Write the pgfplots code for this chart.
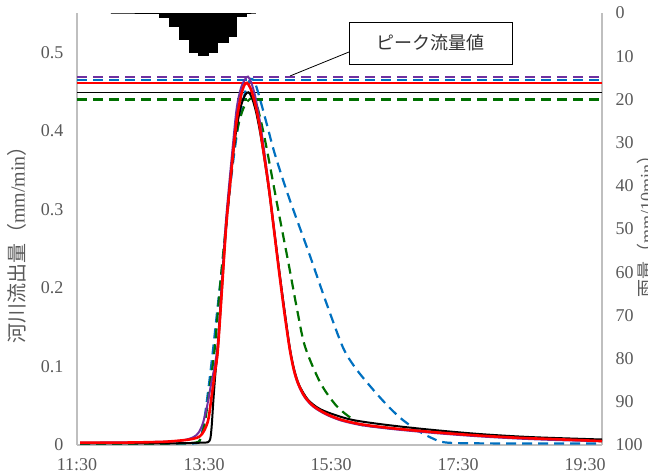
\documentclass[border=0pt]{standalone}
\usepackage{pgfplots}
\pgfplotsset{compat=1.18}
\usepackage{fontspec}
\setmainfont{Liberation Serif}
\newfontfamily\jp{Noto Sans CJK JP}
\definecolor{axgray}{RGB}{191,191,191}
\definecolor{txtgray}{RGB}{89,89,89}
\definecolor{mblue}{RGB}{0,112,192}
\definecolor{mgreen}{RGB}{0,112,0}
\definecolor{mpurple}{RGB}{112,48,160}
\pgfplotsset{
  base/.style={
    at={(77pt,27pt)}, anchor=south west,
    scale only axis, width=525pt, height=432pt,
    xmin=0, xmax=496,
    axis line style={axgray, line width=1.2pt, -},
    major tick length=0pt,
    tick label style={txtgray, font=\fontsize{18}{20}\selectfont},
    /pgf/number format/assume math mode=true,
    clip=false,
  },
  pk/.style={line width=1.6pt},
  dsh/.style={line width=2.2pt, dash pattern=on 10pt off 6pt},
}
\begin{document}
\begin{tikzpicture}[x=1pt,y=1pt]
% rainfall, secondary axis (reversed)
\begin{axis}[base,
  axis y line*=right, axis x line=none,
  ymin=0, ymax=100, y dir=reverse,
  ytick={0,10,...,100},
  yticklabel style={anchor=west, xshift=10pt},
]
\addplot[const plot, fill=black, draw=black, line width=0.8pt] coordinates {
  (32,0) (78,1.0) (87,3.2) (96.5,6.1) (106,9.2) (114.5,9.7) (124,9.2)
  (133,6.9) (143,5.4) (151,0.9) (160,0) (169,0)
} \closedcycle;
\end{axis}
% river discharge
\begin{axis}[base,
  axis x line*=bottom, axis y line*=left,
  ymin=0, ymax=0.55,
  ytick={0,0.1,...,0.5},
  yticklabel style={anchor=east, xshift=-10pt},
  xtick={0,120,240,360,480},
  xticklabels={11:30,13:30,15:30,17:30,19:30},
  xticklabel style={yshift=-10pt},
]
% peak lines
\addplot[mpurple, dsh] coordinates {(0,0.469) (496,0.469)};
\addplot[mblue, dsh] coordinates {(0,0.465) (496,0.465)};
\addplot[red, pk] coordinates {(0,0.461) (496,0.461)};
\addplot[black, pk] coordinates {(0,0.449) (496,0.449)};
\addplot[mgreen, dsh] coordinates {(0,0.440) (496,0.440)};
% blue dashed
\addplot[mblue, dsh, smooth] coordinates {
  (3,0.002) (80,0.002) (110,0.002) (116,0.006) (120,0.03) (124,0.07)
  (128.5,0.121) (134,0.19) (139,0.25) (144,0.32) (149,0.376) (154,0.42)
  (159,0.45) (163,0.464) (165.6,0.466) (169,0.458) (174,0.435) (180,0.405)
  (187,0.37) (200,0.316) (219,0.245) (235,0.183) (251,0.125) (262,0.1)
  (275,0.078) (290,0.055) (305,0.035) (320,0.02) (335,0.009) (350,0.003)
  (400,0.002) (496,0.002)
};
% green dashed
\addplot[mgreen, dsh, smooth] coordinates {
  (3,0.002) (80,0.002) (112,0.003) (117,0.01) (121,0.03) (125,0.07)
  (130,0.121) (135,0.2) (140,0.27) (147.5,0.37) (152,0.405) (157,0.428)
  (162,0.439) (166,0.441) (170,0.432) (175,0.405) (180,0.372) (190,0.3)
  (200,0.23) (208,0.172) (215.5,0.125) (230,0.079) (245,0.05) (258,0.035)
  (267,0.026) (300,0.021) (340,0.016) (380,0.012) (420,0.009) (460,0.007)
  (496,0.005)
};
% purple
\addplot[mpurple, line width=2pt, smooth] coordinates {
  (3,0.003) (80,0.004) (100,0.006) (110,0.01) (115,0.016) (119,0.028)
  (123,0.05) (127,0.08) (130,0.1) (133,0.13) (137,0.21) (141,0.29)
  (147.5,0.385) (151,0.43) (155,0.455) (159,0.466) (161.5,0.469) (164.5,0.462)
  (168.5,0.443) (172.5,0.414) (176.5,0.378) (181,0.332) (186,0.277)
  (191,0.222) (196,0.17) (201,0.123) (205,0.095) (209,0.077) (215,0.061)
  (223,0.049) (235,0.039) (250,0.031) (270,0.025) (300,0.02) (340,0.015)
  (380,0.011) (420,0.008) (460,0.006) (496,0.005)
};
% black observed
\addplot[black, line width=2pt, smooth] coordinates {
  (3,0.002) (80,0.002) (118,0.003) (125,0.005) (127,0.02) (129,0.06)
  (131,0.095) (133,0.121) (137,0.2) (141,0.28) (147.5,0.37) (151,0.405)
  (155,0.432) (159,0.446) (162,0.449) (165,0.443) (169,0.425) (173,0.398)
  (177,0.365) (182,0.318) (187,0.265) (192,0.212) (197,0.162) (201,0.124)
  (205,0.097) (210,0.076) (218,0.058) (228,0.047) (240,0.04) (260,0.032)
  (290,0.026) (330,0.02) (380,0.014) (430,0.01) (496,0.007)
};
% red
\addplot[red, line width=2.6pt, smooth] coordinates {
  (3,0.003) (40,0.003) (80,0.004) (100,0.006) (110,0.008) (116,0.011)
  (120,0.018) (124,0.032) (127,0.06) (130,0.09) (133,0.121) (137,0.2)
  (141,0.28) (144.5,0.33) (147.5,0.372) (151,0.415) (155,0.445) (158,0.458)
  (160.5,0.461) (164,0.454) (168,0.436) (172,0.41) (176,0.375) (181,0.33)
  (186,0.275) (191,0.22) (196,0.168) (201,0.122) (205,0.095) (209,0.078)
  (215,0.062) (223,0.05) (235,0.04) (250,0.032) (270,0.026) (300,0.021)
  (340,0.016) (380,0.012) (420,0.009) (460,0.007) (496,0.005)
};
\end{axis}
% axis titles and callout
\node[rotate=90, txtgray, font=\fontsize{20}{24}\selectfont] at (17,232)
  {{\jp 河川流出量（}mm/min{\jp ）}};
\node[rotate=90, txtgray, font=\fontsize{18}{20}\selectfont] at (646,250)
  {{\jp 雨量（}mm/10min{\jp ）}};
\draw[black, line width=0.8pt] (290,396) -- (349,420);
\node[draw=black, line width=0.8pt, fill=white, minimum width=163pt,
  minimum height=42pt, inner sep=0pt, font=\jp\fontsize{18}{20}\selectfont,
  text=black!80] at (430.5,429) {ピーク流量値};
\pgfresetboundingbox
\useasboundingbox (0,0) rectangle (648,472);
\end{tikzpicture}
\end{document}
